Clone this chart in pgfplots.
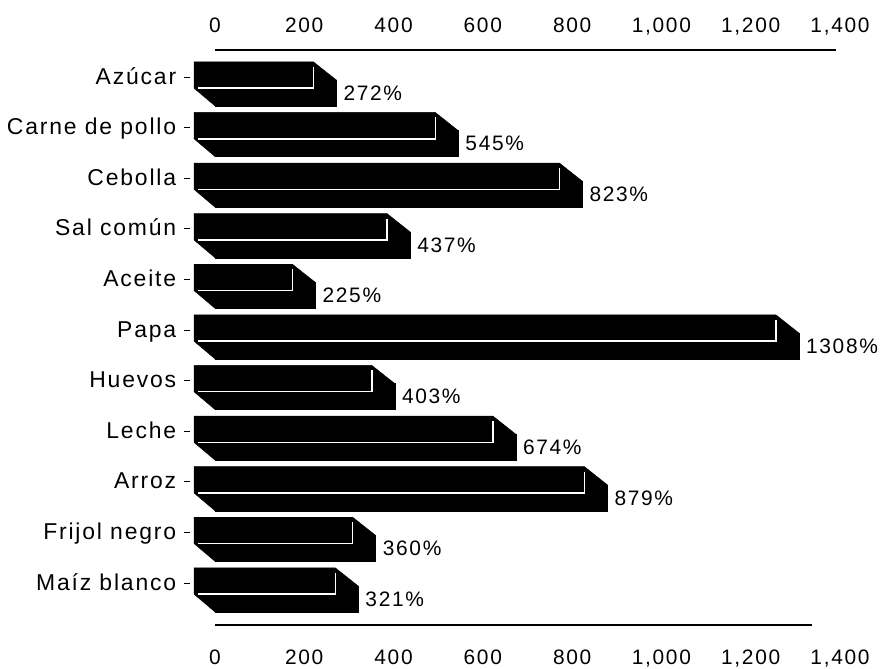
\documentclass[border=0pt]{standalone}
\usepackage{fontspec}
\setmainfont[LetterSpace=8]{Liberation Sans}
\usepackage{pgfplots}
\pgfplotsset{compat=1.18}

\pgfplotsset{
  frame/.style={
    at={(190.4bp,44bp)}, anchor=south west,
    scale only axis, width=649.6bp, height=575bp,
    clip=false,
    xmin=-55, xmax=1400,
    ymin=-0.534, ymax=10.83, y dir=reverse,
    xtick={0,200,...,1400},
    axis line style={draw=none},
    xtick style={draw=none},
    /pgf/number format/assume math mode=true,
    /pgf/number format/1000 sep={,},
    tick label style={font=\fontsize{21}{24}\selectfont, black},
    x tick label style={inner sep=0pt, text height=14bp, text depth=0bp},
  },
}

\begin{document}
\begin{tikzpicture}
\path[use as bounding box] (0bp,0bp) rectangle (885bp,669bp);
% top scale
\begin{axis}[frame, xticklabel pos=upper, ytick=\empty, xticklabel shift=17bp]
\end{axis}
\begin{axis}[
  frame,
  xticklabel pos=lower,
  xticklabel shift=19bp,
  ytick={0,...,10},
  yticklabels={Azúcar,Carne de pollo,Cebolla,Sal común,Aceite,Papa,Huevos,Leche,Arroz,Frijol negro,Maíz blanco},
  ytick style={black, line width=0.8bp},
  ytick pos=left,
  tick align=outside,
  major tick length=6bp,
  y tick label style={font=\fontsize{23}{24}\selectfont, inner sep=8bp, text height=16bp, text depth=2bp},
]
  % values, front face of each bar
  \addplot[xbar, bar width=26bp, bar shift=-16bp, fill=black, draw=black,
    point meta=x,
    nodes near coords={\pgfmathprintnumber[1000 sep={}]{\pgfplotspointmeta}\%},
    nodes near coords align={horizontal},
    every node near coord/.append style={font=\fontsize{21}{24}\selectfont, black, anchor=west, inner sep=0pt, xshift=7bp, yshift=-16bp},
  ] coordinates {
    (272,0) (545,1) (823,2) (437,3) (225,4) (1308,5)
    (403,6) (674,7) (879,8) (360,9) (321,10)
  };
  % depth of each bar
  \addplot[fill=black,draw=black] coordinates {(-47,-0.30)(220.5,-0.30)(272,0.06)(272,0.57)(0,0.57)(-47,0.22)};
  \addplot[fill=black,draw=black] coordinates {(-47,0.70)(493.5,0.70)(545,1.06)(545,1.57)(0,1.57)(-47,1.22)};
  \addplot[fill=black,draw=black] coordinates {(-47,1.70)(771.5,1.70)(823,2.06)(823,2.57)(0,2.57)(-47,2.22)};
  \addplot[fill=black,draw=black] coordinates {(-47,2.70)(385.5,2.70)(437,3.06)(437,3.57)(0,3.57)(-47,3.22)};
  \addplot[fill=black,draw=black] coordinates {(-47,3.70)(173.5,3.70)(225,4.06)(225,4.57)(0,4.57)(-47,4.22)};
  \addplot[fill=black,draw=black] coordinates {(-47,4.70)(1256.5,4.70)(1308,5.06)(1308,5.57)(0,5.57)(-47,5.22)};
  \addplot[fill=black,draw=black] coordinates {(-47,5.70)(351.5,5.70)(403,6.06)(403,6.57)(0,6.57)(-47,6.22)};
  \addplot[fill=black,draw=black] coordinates {(-47,6.70)(622.5,6.70)(674,7.06)(674,7.57)(0,7.57)(-47,7.22)};
  \addplot[fill=black,draw=black] coordinates {(-47,7.70)(827.5,7.70)(879,8.06)(879,8.57)(0,8.57)(-47,8.22)};
  \addplot[fill=black,draw=black] coordinates {(-47,8.70)(308.5,8.70)(360,9.06)(360,9.57)(0,9.57)(-47,9.22)};
  \addplot[fill=black,draw=black] coordinates {(-47,9.70)(269.5,9.70)(321,10.06)(321,10.57)(0,10.57)(-47,10.22)};
  % white highlight line
  \addplot[white,line width=1.5bp] coordinates {(-38,0.22)(220.5,0.22)(220.5,-0.20)};
  \addplot[white,line width=1.5bp] coordinates {(-38,1.22)(493.5,1.22)(493.5,0.80)};
  \addplot[white,line width=1.5bp] coordinates {(-38,2.22)(771.5,2.22)(771.5,1.80)};
  \addplot[white,line width=1.5bp] coordinates {(-38,3.22)(385.5,3.22)(385.5,2.80)};
  \addplot[white,line width=1.5bp] coordinates {(-38,4.22)(173.5,4.22)(173.5,3.80)};
  \addplot[white,line width=1.5bp] coordinates {(-38,5.22)(1256.5,5.22)(1256.5,4.80)};
  \addplot[white,line width=1.5bp] coordinates {(-38,6.22)(351.5,6.22)(351.5,5.80)};
  \addplot[white,line width=1.5bp] coordinates {(-38,7.22)(622.5,7.22)(622.5,6.80)};
  \addplot[white,line width=1.5bp] coordinates {(-38,8.22)(827.5,8.22)(827.5,7.80)};
  \addplot[white,line width=1.5bp] coordinates {(-38,9.22)(308.5,9.22)(308.5,8.80)};
  \addplot[white,line width=1.5bp] coordinates {(-38,10.22)(269.5,10.22)(269.5,9.80)};
  % axis rules
  \addplot[black,line width=1.6bp] coordinates {(0,-0.534)(1390,-0.534)};
  \addplot[black,line width=1.6bp] coordinates {(0,10.83)(1337,10.83)};
\end{axis}
\end{tikzpicture}
\end{document}
